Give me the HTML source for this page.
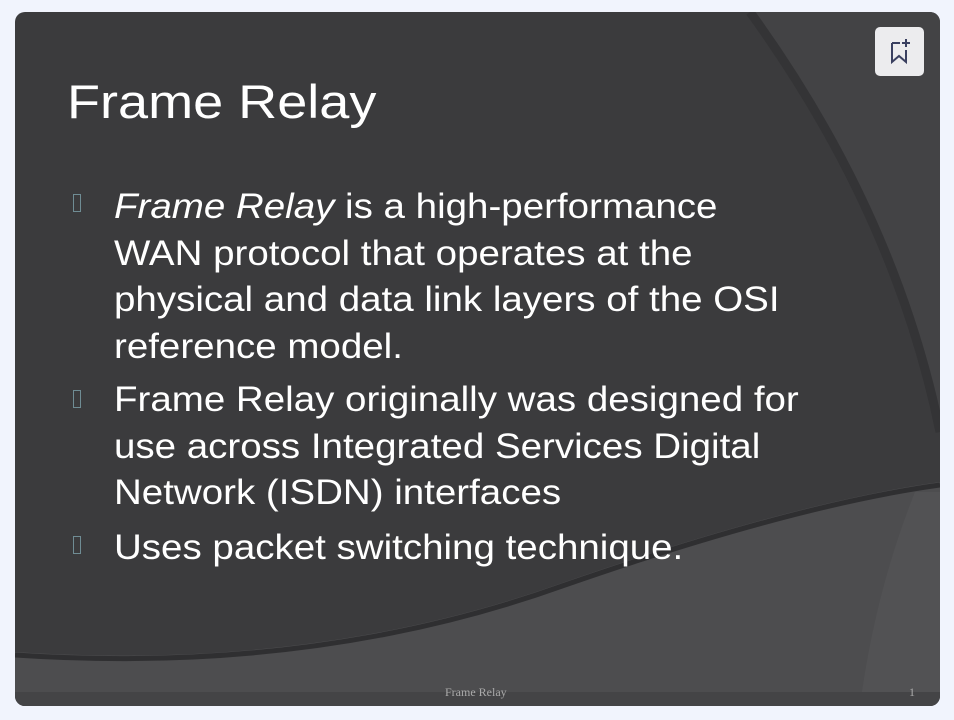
<!DOCTYPE html>
<html><head><style>
body{margin:0;width:954px;height:720px;background:#f1f4fd;overflow:hidden;position:relative;font-family:"Liberation Sans",sans-serif}
#s{position:absolute;left:15px;top:12px;width:925px;height:694px;border-radius:10px;overflow:hidden;background:#3b3b3d}
svg{position:absolute;left:0;top:0}
.t{position:absolute;color:#fff;white-space:nowrap;transform-origin:0 0}
.b{position:absolute;left:58px;width:8px;height:18px;border:1px solid #6f8c94;box-sizing:border-box}
</style></head><body>
<div id="s">
<svg width="925" height="694">
<path d="M735 0 Q880 200 925 420 L925 0Z" fill="#434345"/>
<path d="M735 0 Q880 200 925 420" stroke="#343436" stroke-width="9" fill="none"/>
<path d="M0 640 Q300 660 550 570 Q780 490 925 470 L925 694 L0 694Z" fill="#4d4d4f"/>
<path d="M0 643 Q300 663 550 573 Q780 493 925 473" stroke="#2f2f31" stroke-width="5" fill="none"/>
<path d="M900 480 Q860 580 845 694 L925 694 L925 480Z" fill="#ffffff" opacity="0.03"/>
<rect x="0" y="680" width="925" height="14" fill="#444446"/>
</svg>
<div class="t" style="left:52px;top:62px;font-size:47px;transform:scaleX(1.15)">Frame Relay</div>
<div class="b" style="top:182px"></div>
<div class="b" style="top:378px"></div>
<div class="b" style="top:524px"></div>
<div class="t" style="left:99px;top:172px;font-size:35px;line-height:46.5px;transform:scaleX(1.1)"><i>Frame Relay</i> is a high-performance<br>WAN protocol that operates at the<br>physical and data link layers of the OSI<br>reference model.</div>
<div class="t" style="left:99px;top:365px;font-size:35px;line-height:46.5px;transform:scaleX(1.1)">Frame Relay originally was designed for<br>use across Integrated Services Digital<br>Network (ISDN) interfaces</div>
<div class="t" style="left:99px;top:513px;font-size:35px;line-height:46.5px;transform:scaleX(1.1)">Uses packet switching technique.</div>
<div class="t" style="left:430px;top:673px;font-size:12px;color:#aaa;font-family:'Liberation Serif',serif">Frame Relay</div>
<div class="t" style="left:894px;top:673px;font-size:12px;color:#aaa;font-family:'Liberation Serif',serif">1</div>
<div style="position:absolute;left:860px;top:15px;width:49px;height:49px;background:#ececee;border-radius:5px">
<svg width="49" height="49"><path d="M17 16 L17 35 L24 29 L31 35 L31 23 M17 16 L25 16" stroke="#3a4060" stroke-width="2" fill="none"/><path d="M31 12 V20 M27 16 H35" stroke="#3a4060" stroke-width="2"/></svg>
</div>
</div>
</body></html>
